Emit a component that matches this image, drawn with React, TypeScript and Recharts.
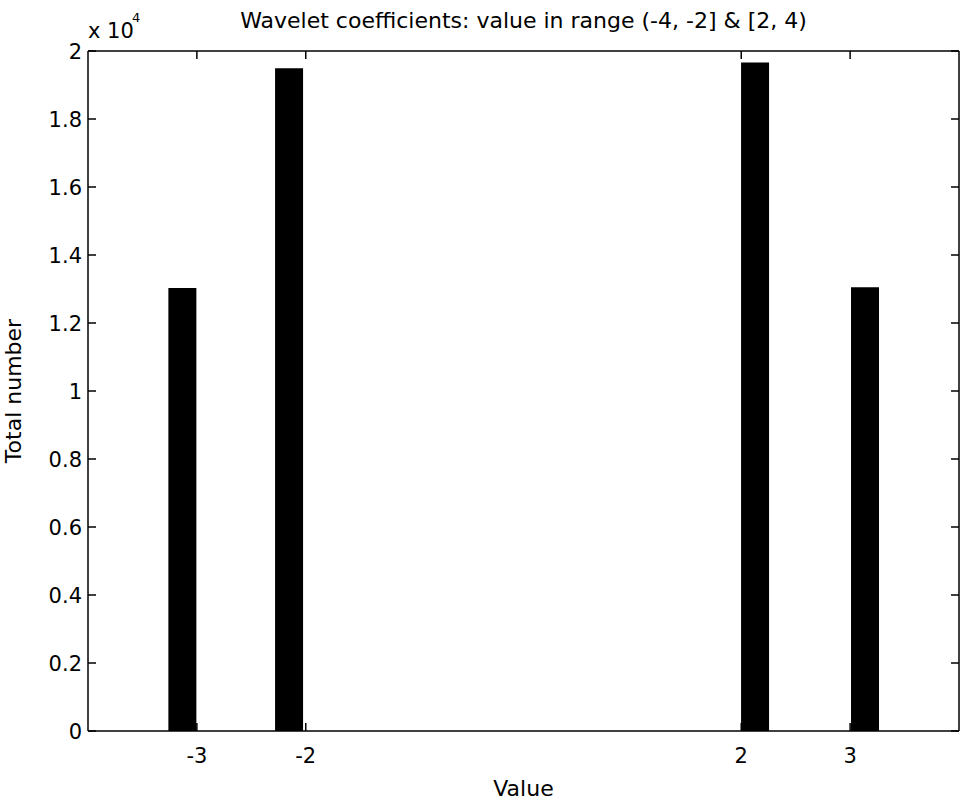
import React from 'react';
import { ComposedChart, Bar, XAxis, YAxis, Label } from 'recharts';

// Histogram bins (bin centres in coefficient value) and counts
const binCenters = [-3.13, -2.15, 2.13, 3.14];
const counts = [13030, 19490, 19660, 13050];
const xTicks = [-3, -2, 2, 3];
const yTicks = [0, 2000, 4000, 6000, 8000, 10000, 12000, 14000, 16000, 18000, 20000];
const titleText = 'Wavelet coefficients: value in range (-4, -2] & [2, 4)';
const xLabelText = 'Value';
const yLabelText = 'Total number';
const yScaleExp = 4;

const data = binCenters.map((x, i) => ({ x, count: counts[i] }));

const FONT = '"DejaVu Sans", "Liberation Sans", Arial, sans-serif';
const TICK_LEN = 8;

const TopLabel = (props: any) => {
  const vb = props.viewBox || { x: 88, y: 50, width: 871, height: 1 };
  const base = vb.y + vb.height;
  return (
    <g>
      <text x={vb.x + vb.width / 2} y={base - 23} textAnchor="middle" fontFamily={FONT} fontSize={22} fill="#000">
        {titleText}
      </text>
      <text x={vb.x} y={base - 13} textAnchor="start" fontFamily={FONT} fontSize={21} fill="#000">
        x 10
      </text>
      <text x={vb.x + 44} y={base - 29} textAnchor="start" fontFamily={FONT} fontSize={13} fill="#000">
        {String(yScaleExp)}
      </text>
    </g>
  );
};

const BottomLabel = (props: any) => {
  const vb = props.viewBox || { x: 88, y: 731, width: 871, height: 73 };
  return (
    <text x={vb.x + vb.width / 2} y={vb.y + 65} textAnchor="middle" fontFamily={FONT} fontSize={22} fill="#000">
      {xLabelText}
    </text>
  );
};

const LeftLabel = (props: any) => {
  const vb = props.viewBox || { x: 0, y: 51, width: 88, height: 680 };
  const cx = vb.x + 21;
  const cy = vb.y + vb.height / 2;
  return (
    <text x={cx} y={cy} transform={`rotate(-90 ${cx} ${cy})`} textAnchor="middle" fontFamily={FONT} fontSize={22} fill="#000">
      {yLabelText}
    </text>
  );
};

// Inward-pointing MATLAB-style ticks
const BottomTick = (props: any) => {
  const { x, y, payload } = props;
  return (
    <g>
      <line x1={x} x2={x} y1={y} y2={y - TICK_LEN} stroke="#000" strokeWidth={1.5} />
      <text x={x} y={y + 32} textAnchor="middle" fontFamily={FONT} fontSize={21} fill="#000">
        {String(payload.value)}
      </text>
    </g>
  );
};

const TopTick = (props: any) => {
  const { x, y } = props;
  return <line x1={x} x2={x} y1={y} y2={y + TICK_LEN} stroke="#000" strokeWidth={1.5} />;
};

const LeftTick = (props: any) => {
  const { x, y, payload } = props;
  return (
    <g>
      <line x1={x} x2={x + TICK_LEN} y1={y} y2={y} stroke="#000" strokeWidth={1.5} />
      <text x={x - 6} y={y + 7.5} textAnchor="end" fontFamily={FONT} fontSize={21} fill="#000">
        {String(payload.value / Math.pow(10, yScaleExp))}
      </text>
    </g>
  );
};

const RightTick = (props: any) => {
  const { x, y } = props;
  return <line x1={x} x2={x - TICK_LEN} y1={y} y2={y} stroke="#000" strokeWidth={1.5} />;
};

export default function App() {
  const axisStroke = { stroke: '#000', strokeWidth: 1.5 };
  return (
    <div style={{ position: 'absolute', left: 0, top: 0, width: 964, height: 804, background: '#fff' }}>
      <ComposedChart
        width={964}
        height={804}
        data={data}
        margin={{ top: 50, right: 4, left: 0, bottom: 0 }}
        style={{ fontFamily: FONT }}
      >
        <XAxis
          xAxisId="main"
          dataKey="x"
          type="number"
          domain={[-4, 4]}
          ticks={xTicks}
          allowDataOverflow
          orientation="bottom"
          height={73}
          tickSize={0}
          tickMargin={0}
          axisLine={axisStroke}
          tickLine={false}
          tick={<BottomTick />}
        >
          <Label content={BottomLabel} />
        </XAxis>
        <XAxis
          xAxisId="top"
          dataKey="x"
          type="number"
          domain={[-4, 4]}
          ticks={xTicks}
          allowDataOverflow
          orientation="top"
          height={1}
          tickSize={0}
          tickMargin={0}
          axisLine={axisStroke}
          tickLine={false}
          tick={<TopTick />}
        >
          <Label content={TopLabel} />
        </XAxis>
        <YAxis
          yAxisId="main"
          type="number"
          domain={[0, 20000]}
          ticks={yTicks}
          allowDataOverflow
          orientation="left"
          width={88}
          tickSize={0}
          tickMargin={0}
          axisLine={axisStroke}
          tickLine={false}
          tick={<LeftTick />}
        >
          <Label content={LeftLabel} />
        </YAxis>
        <YAxis
          yAxisId="right"
          type="number"
          domain={[0, 20000]}
          ticks={yTicks}
          allowDataOverflow
          orientation="right"
          width={1}
          tickSize={0}
          tickMargin={0}
          axisLine={axisStroke}
          tickLine={false}
          tick={<RightTick />}
        />
        <Bar
          xAxisId="main"
          yAxisId="main"
          dataKey="count"
          fill="#000"
          barSize={28}
          isAnimationActive={false}
        />
      </ComposedChart>
    </div>
  );
}
